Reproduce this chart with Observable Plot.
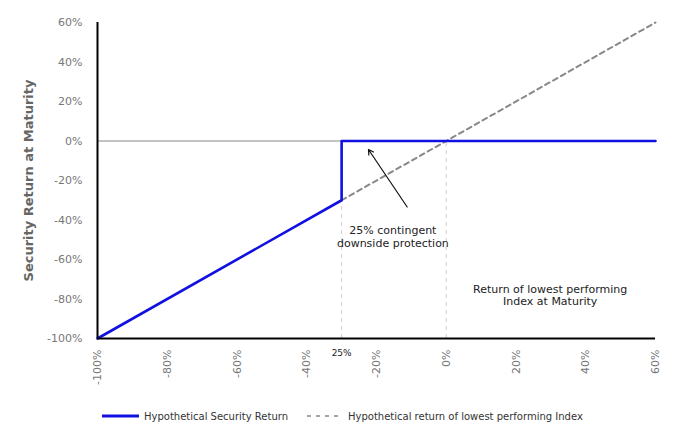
<!DOCTYPE html>
<html><head><meta charset="utf-8">
<script src="https://cdn.jsdelivr.net/npm/d3@7"></script>
<script src="https://cdn.jsdelivr.net/npm/@observablehq/plot@0.6"></script>
<style>
body{margin:0;background:#fff;font-family:"DejaVu Sans",sans-serif;}
#legend{position:relative;height:34px;font-size:10px;color:#333;}
#legend .item{position:absolute;top:12px;height:12px;display:flex;align-items:center;}
</style></head><body>
<div id="chart"></div>
<div id="legend"></div>
<script>
const securityX = [-100, -30, -30, 60];
const securityY = [-100, -30, 0, 0];
const indexX = [-30, 60];
const indexY = [-30, 60];
const xTicks = [-100, -80, -60, -40, -20, 0, 20, 40, 60];
const yTicks = [-100, -80, -60, -40, -20, 0, 20, 40, 60];
const barrier = -30;
const seriesNames = ["Hypothetical Security Return", "Hypothetical return of lowest performing Index"];

const security = securityX.map((x, i) => ({x, y: securityY[i]}));
const index = indexX.map((x, i) => ({x, y: indexY[i]}));

const chart = Plot.plot({
  width: 675, height: 398,
  marginLeft: 97, marginRight: 20, marginTop: 22, marginBottom: 60,
  style: {fontFamily: "DejaVu Sans", fontSize: "11px", color: "#777", background: "#fff"},
  x: {domain: [-100, 60], ticks: xTicks, tickFormat: d => d + "%", tickRotate: -90, tickSize: 0, tickPadding: 11, label: null},
  y: {domain: [-100, 60], ticks: yTicks, tickFormat: d => d + "%", tickSize: 0, tickPadding: 15, label: null},
  marks: [
    Plot.ruleX([barrier], {y1: -100, y2: -30, stroke: "#ccc", strokeDasharray: "4,4", strokeWidth: 1}),
    Plot.ruleX([0], {y1: -100, y2: 0, stroke: "#ccc", strokeDasharray: "4,4", strokeWidth: 1}),
    Plot.ruleY([0], {x1: -100, x2: 60, stroke: "#888", strokeWidth: 1.2}),
    Plot.line(index, {x: "x", y: "y", stroke: "#888", strokeWidth: 2, strokeDasharray: "5,4"}),
    Plot.line(security, {x: "x", y: "y", stroke: "#1010e0", strokeWidth: 2.6}),
    Plot.ruleX([-100], {y1: -100, y2: 60, stroke: "#000", strokeWidth: 2}),
    Plot.ruleY([-100], {x1: -100, x2: 60, stroke: "#000", strokeWidth: 2}),
    Plot.arrow([{x1: -11.2, y1: -33.4, x2: -22.3, y2: -4.3}], {x1: "x1", y1: "y1", x2: "x2", y2: "y2", stroke: "#111", strokeWidth: 1.2, headLength: 7}),
    Plot.text(["25% contingent\ndownside protection"], {x: -15.3, y: -48.3, fill: "#222", fontSize: 11, lineHeight: 1.18}),
    Plot.text(["Return of lowest performing\nIndex at Maturity"], {x: 29.8, y: -78, fill: "#222", fontSize: 11, lineHeight: 1.1}),
    Plot.text(["25%"], {x: barrier, y: -100, dy: 15, fill: "#222", fontSize: 9}),
    Plot.text(["Security Return at Maturity"], {frameAnchor: "left", textAnchor: "middle", dx: -69, y: -20, rotate: -90, fill: "#666", fontSize: 13, fontWeight: "bold"})
  ]
});
document.getElementById("chart").appendChild(chart);

const legend = document.getElementById("legend");
legend.innerHTML = `
<div class="item" style="left:102px"><svg width="37" height="6"><line x1="0" y1="3" x2="37" y2="3" stroke="#1010e0" stroke-width="3"/></svg><span style="margin-left:5px">${seriesNames[0]}</span></div>
<div class="item" style="left:307px"><svg width="31" height="6"><line x1="0" y1="3" x2="31" y2="3" stroke="#888" stroke-width="1.5" stroke-dasharray="4,5"/></svg><span style="margin-left:10px">${seriesNames[1]}</span></div>`;
</script>
</body></html>
